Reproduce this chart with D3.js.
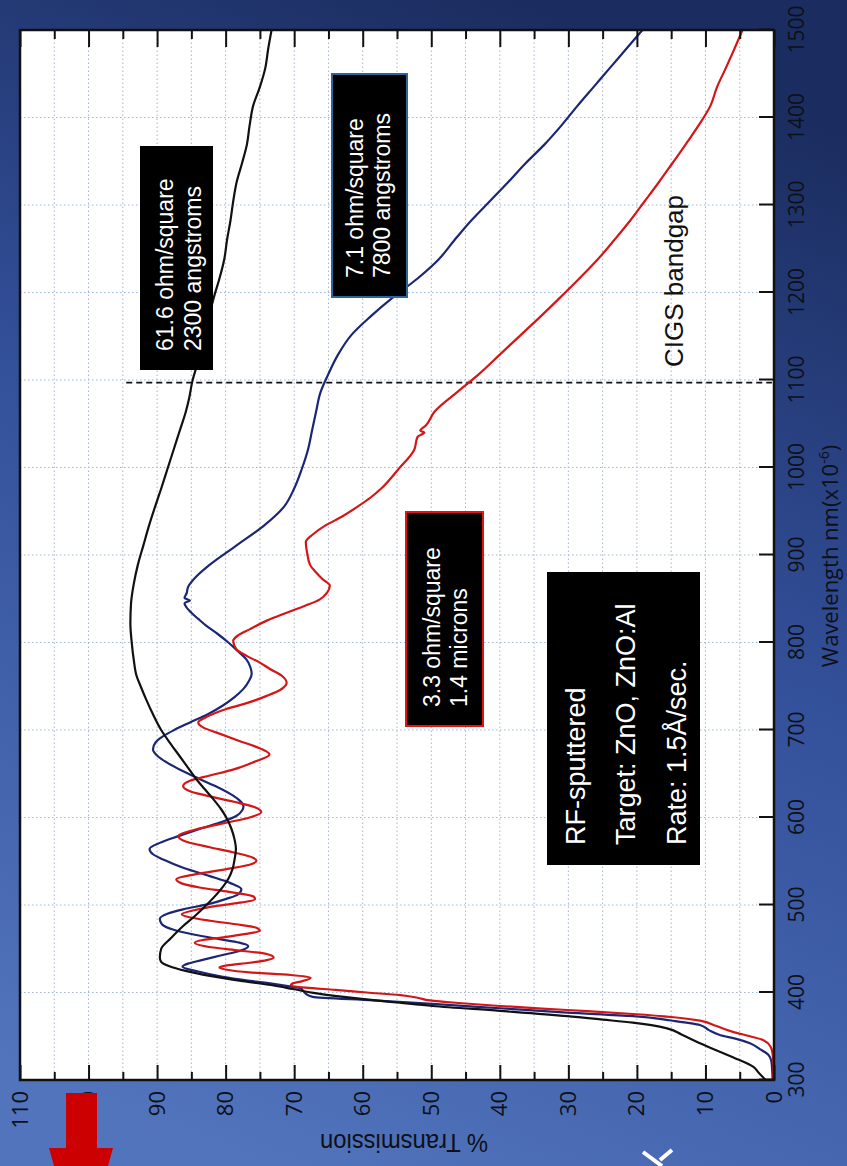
<!DOCTYPE html>
<html>
<head>
<meta charset="utf-8">
<script src="https://cdn.jsdelivr.net/npm/d3@7"></script>
<style>
  html, body { margin: 0; padding: 0; background: #2c4786; }
  svg { display: block; }
</style>
</head>
<body>
<svg id="chart" width="847" height="1166"></svg>
<script>
// ---- data ----
const wavelengthTicks = [300, 400, 500, 600, 700, 800, 900, 1000, 1100, 1200, 1300, 1400, 1500]
const transmissionTicks = [0, 10, 20, 30, 40, 50, 60, 70, 80, 90, 100, 110]
const transmissionMinorTicks = [5, 15, 25, 35, 45, 55, 65, 75, 85, 95, 105]
const bandgapWavelength = 1097

// 61.6 ohm/square, 2300 angstroms
const blackWavelength = [300, 308, 315, 326, 342, 352, 359, 365.5, 369, 373, 379, 384.6, 388.3, 393, 399, 404, 408, 413, 419, 425, 430, 435, 440, 450, 462, 476, 488, 500, 515, 530, 541, 552, 564, 575, 588, 600, 610, 621, 632, 644, 657, 670, 685, 700, 718, 735, 750, 762, 780, 800, 822, 845, 867, 889, 911, 933, 955, 976, 998, 1020, 1042, 1064, 1080, 1097, 1124, 1151, 1173, 1195, 1216, 1238, 1260, 1282, 1304, 1326, 1348, 1369, 1391, 1413, 1435, 1457, 1478, 1500]
const blackTransmission = [1.2, 2.2, 3.0, 6.0, 10.8, 13.5, 15.6, 20.6, 25, 30.2, 40, 49.8, 54.6, 60.5, 66.7, 70.2, 73, 77.5, 82.3, 86, 88.2, 89.4, 89.6, 89.4, 88.0, 86.2, 84.4, 82.8, 81.0, 79.6, 79.0, 78.7, 78.5, 78.7, 79.2, 79.9, 80.7, 81.8, 83.0, 84.3, 85.5, 86.7, 88.1, 89.4, 90.6, 91.6, 92.4, 93.0, 93.4, 93.7, 93.9, 93.8, 93.4, 92.8, 92.0, 91.2, 90.3, 89.4, 88.5, 87.6, 86.7, 85.8, 85.3, 84.9, 83.9, 82.9, 82.4, 81.7, 80.9, 80.2, 79.8, 79.3, 78.9, 78.4, 77.6, 76.9, 76.5, 76.0, 75.0, 74.2, 73.8, 73.3]

// 7.1 ohm/square, 7800 angstroms
const blueWavelength = [300, 315, 322, 328.6, 335, 342, 347, 351.4, 357, 362.9, 368, 373, 377, 382, 387, 391, 395, 398, 402, 404.5, 407, 411, 414, 418, 424, 429.5, 433, 437, 442, 448, 453, 457, 461, 466, 472, 478, 484, 490, 495, 501, 507, 512, 518, 525, 533, 542, 552, 558, 564, 571, 579, 587, 595, 602, 608, 613, 619, 625, 634, 644, 654, 663, 670, 678, 686, 693, 700, 708.6, 718, 728, 737, 747, 756, 764, 772, 781, 790, 800, 810, 819, 827, 834, 840, 845, 848, 851, 856, 863, 876, 889, 911, 933, 955, 976, 998, 1020, 1042, 1064, 1085, 1107, 1129, 1151, 1173, 1195, 1216, 1238, 1260, 1282, 1304, 1326, 1348, 1369, 1391, 1413, 1435, 1457, 1478, 1500]
const blueTransmission = [0.2, 0.3, 0.4, 0.8, 2.0, 3.5, 5.5, 7.9, 9.5, 10.8, 15, 20.6, 30.2, 40, 49.8, 58.5, 67.3, 68.2, 68.7, 69.0, 70.7, 74, 77, 80.4, 84, 86.3, 85.5, 83.5, 80.9, 77.8, 76.7, 78, 80.9, 84.5, 87.7, 89.3, 89.6, 88.5, 86.2, 82.5, 79.9, 78.2, 77.7, 79.3, 82.3, 86.0, 89.1, 90.6, 91.1, 89.6, 86.8, 83.8, 80.5, 78.4, 77.6, 77.4, 77.9, 78.9, 81.0, 83.8, 86.5, 88.6, 89.9, 90.6, 90.2, 89.1, 87.5, 85.2, 82.6, 80.4, 78.8, 77.4, 76.6, 76.2, 76.4, 77.0, 78.2, 79.6, 81.2, 82.8, 84.0, 85.0, 85.7, 86.0, 85.2, 86.0, 85.7, 85.5, 84.2, 82.3, 78.4, 74.5, 71.5, 70.0, 68.9, 68.0, 67.4, 66.8, 66.2, 65.0, 63.6, 61.7, 58.8, 55.5, 52.0, 48.9, 46.6, 44.2, 41.5, 38.8, 36.2, 33.5, 31.0, 28.7, 26.3, 23.9, 21.6, 19.2]

// 3.3 ohm/square, 1.4 microns
const redWavelength = [300, 320, 330, 338, 345.7, 350, 355, 362, 367.8, 372, 375.4, 380, 384.6, 388, 391, 394, 397, 400, 403, 405.5, 408, 410, 413, 417, 420, 423, 426, 428.6, 431, 434, 437, 440, 444, 448, 451.4, 457, 460, 463, 467, 470.5, 474, 478, 482, 486, 489.5, 494, 499, 503, 506.7, 510, 515, 520, 525, 529.5, 535, 541, 546, 550.5, 554, 560, 566, 572, 579, 586, 594, 600, 606, 612, 618, 625, 630, 636, 642, 648, 655, 663, 672, 679, 688, 697, 703, 708.6, 714, 724, 731, 739, 746, 754, 762, 770, 777, 785, 792, 802, 808, 815, 825, 834, 842, 849, 857, 865, 872, 880, 889, 902, 915, 924, 933, 944, 955, 966, 976, 998, 1020, 1035, 1040, 1042, 1048, 1064, 1085, 1107, 1129, 1151, 1173, 1195, 1216, 1238, 1260, 1282, 1304, 1326, 1348, 1369, 1391, 1413, 1435, 1457, 1478, 1500]
const redTransmission = [0.1, 0.1, 0.2, 0.5, 1.6, 3.5, 6.0, 8.5, 10.8, 15, 20.6, 30.2, 40, 46, 50.2, 52, 54.5, 59.4, 64, 68.3, 70.5, 70.3, 68.8, 67.6, 70.5, 76.5, 79.8, 80.9, 79.8, 76.5, 74.0, 73.0, 74.0, 78, 81.8, 84.5, 83.3, 80.4, 77, 75.0, 75.5, 78.5, 82.3, 85.3, 86.4, 84.6, 81.3, 77.6, 75.7, 76.0, 79.5, 83.8, 86.5, 87.2, 84.5, 79.9, 76.5, 75.5, 76.0, 78.8, 82.3, 85.6, 86.9, 84.5, 79.9, 76.5, 74.8, 75.8, 78.8, 82.8, 85.2, 86.2, 85.2, 82.3, 78.8, 76.0, 73.6, 75.0, 78.2, 81.3, 83.3, 84.0, 83.0, 79.9, 76.8, 74.0, 72.0, 71.1, 71.8, 73.6, 75.0, 77.0, 78.4, 78.9, 78.2, 76.5, 74.0, 71.1, 68.4, 66.3, 65.2, 64.8, 65.8, 66.8, 67.7, 68.1, 68.3, 67.2, 65.6, 63.0, 60.8, 58.8, 57.3, 54.8, 52.5, 52.0, 51.0, 51.6, 50.8, 49.5, 46.4, 43.0, 40.0, 37.0, 34.0, 31.1, 28.4, 25.7, 23.3, 21.0, 18.9, 16.8, 14.8, 12.9, 11.0, 9.3, 8.3, 7.0, 5.8, 4.6]

const series = [
  { name: "blue", color: "#1b2775", wl: blueWavelength, t: blueTransmission },
  { name: "red", color: "#d41616", wl: redWavelength, t: redTransmission },
  { name: "black", color: "#111111", wl: blackWavelength, t: blackTransmission }
]

// ---- layout: the chart is drawn normally, then turned 90 degrees ----
const frame = { left: 20, top: 30, right: 774, bottom: 1080 }
const plotLength = frame.bottom - frame.top   // wavelength axis
const plotDepth = frame.right - frame.left    // transmission axis

const svg = d3.select("#chart")

// slide background
const defs = svg.append("defs")
const bg = defs.append("linearGradient")
  .attr("id", "bg")
  .attr("x1", "0.6").attr("y1", "0")
  .attr("x2", "0.3").attr("y2", "1")
bg.append("stop").attr("offset", "0%").attr("stop-color", "#1b2d60")
bg.append("stop").attr("offset", "45%").attr("stop-color", "#33509a")
bg.append("stop").attr("offset", "100%").attr("stop-color", "#5174bc")

defs.append("clipPath").attr("id", "plotClip")
  .append("rect")
  .attr("x", 0).attr("y", 0)
  .attr("width", plotLength).attr("height", plotDepth)

svg.append("rect")
  .attr("width", 847).attr("height", 1166)
  .attr("fill", "url(#bg)")

const group = svg.append("g")
  .attr("transform", `translate(${frame.left}, ${frame.bottom}) rotate(-90)`)

// scales
const xScale = d3.scaleLinear().domain([300, 1500]).range([0, plotLength])
const yScale = d3.scaleLinear().domain([0, 110]).range([plotDepth, 0])

group.append("rect")
  .attr("width", plotLength).attr("height", plotDepth)
  .attr("fill", "#ffffff")

// dotted grid
group.append("g")
  .selectAll("line")
  .data(d3.range(5, 110, 5))
  .enter()
  .append("line")
    .attr("x1", 0).attr("x2", plotLength)
    .attr("y1", d => yScale(d)).attr("y2", d => yScale(d))
    .attr("stroke", "#9fb4d9")
    .attr("stroke-width", 1)
    .attr("stroke-dasharray", "1.5,2.5")

group.append("g")
  .selectAll("line")
  .data(wavelengthTicks.slice(1, -1))
  .enter()
  .append("line")
    .attr("x1", d => xScale(d)).attr("x2", d => xScale(d))
    .attr("y1", 0).attr("y2", plotDepth)
    .attr("stroke", "#9fb4d9")
    .attr("stroke-width", 1)
    .attr("stroke-dasharray", "1.5,2.5")

// CIGS bandgap marker
group.append("line")
  .attr("x1", xScale(bandgapWavelength)).attr("x2", xScale(bandgapWavelength))
  .attr("y1", yScale(94.5)).attr("y2", yScale(0.3))
  .attr("stroke", "#111")
  .attr("stroke-width", 1.6)
  .attr("stroke-dasharray", "6,4")

// curves
const lineGen = d3.line()
  .x(d => xScale(d[0]))
  .y(d => yScale(d[1]))
  .curve(d3.curveMonotoneX)

group.append("g")
  .attr("clip-path", "url(#plotClip)")
  .selectAll("path")
  .data(series)
  .enter()
  .append("path")
    .attr("d", s => lineGen(s.wl.map((w, i) => [w, s.t[i]])))
    .attr("fill", "none")
    .attr("stroke", s => s.color)
    .attr("stroke-width", 2.2)
    .attr("stroke-linejoin", "round")

// axes, ticks pointing inward
const tickFont = `"Open Sans", "DejaVu Sans", sans-serif`

const xAxis = group.append("g")
  .attr("transform", `translate(0, ${plotDepth})`)
  .call(d3.axisBottom(xScale)
    .tickValues(wavelengthTicks)
    .tickFormat(d3.format("d"))
    .tickSizeInner(-15).tickSizeOuter(0)
    .tickPadding(15))
xAxis.select(".domain").remove()

const yAxis = group.append("g")
  .call(d3.axisLeft(yScale)
    .tickValues(transmissionTicks)
    .tickFormat(d3.format("d"))
    .tickSizeInner(-15).tickSizeOuter(0)
    .tickPadding(11))
yAxis.select(".domain").remove()

const yMinor = group.append("g")
  .call(d3.axisLeft(yScale)
    .tickValues(transmissionMinorTicks)
    .tickFormat("")
    .tickSizeInner(-8).tickSizeOuter(0))
yMinor.select(".domain").remove()

const yRight = group.append("g")
  .attr("transform", `translate(${plotLength}, 0)`)
  .call(d3.axisRight(yScale)
    .tickValues(transmissionTicks)
    .tickFormat("")
    .tickSizeInner(-17).tickSizeOuter(0))
yRight.select(".domain").remove()

const yRightMinor = group.append("g")
  .attr("transform", `translate(${plotLength}, 0)`)
  .call(d3.axisRight(yScale)
    .tickValues(transmissionMinorTicks)
    .tickFormat("")
    .tickSizeInner(-9).tickSizeOuter(0))
yRightMinor.select(".domain").remove()

group.selectAll(".tick line")
  .attr("stroke", "#111")
  .attr("stroke-width", 2)

xAxis.selectAll("text")
  .attr("font-family", tickFont)
  .attr("font-size", "21px")
  .attr("fill", "#0e1018")
yAxis.selectAll("text")
  .attr("font-family", tickFont)
  .attr("font-size", "22px")
  .attr("fill", "#0e1018")

group.append("rect")
  .attr("width", plotLength).attr("height", plotDepth)
  .attr("fill", "none")
  .attr("stroke", "#111")
  .attr("stroke-width", 2.5)

// axis titles
const xTitle = svg.append("text")
  .attr("transform", "translate(838, 556) rotate(-90)")
  .attr("text-anchor", "middle")
  .attr("font-family", tickFont)
  .attr("font-size", "22px")
  .attr("fill", "#0e1018")
xTitle.append("tspan").text("Wavelength nm(x10")
xTitle.append("tspan").attr("dy", -9).attr("font-size", "14px").text("-6")
xTitle.append("tspan").attr("dy", 9).text(")")

svg.append("text")
  .attr("transform", "translate(404, 1134) rotate(180)")
  .attr("text-anchor", "middle")
  .attr("font-family", `"Liberation Sans Narrow", "Liberation Sans", Arial, sans-serif`)
  .attr("font-size", "25px")
  .attr("textLength", 168)
  .attr("lengthAdjust", "spacingAndGlyphs")
  .attr("fill", "#0e1018")
  .text("% Transmission")

// annotation boxes
const labelFont = `"Liberation Sans", Arial, sans-serif`
const boxes = [
  { x: 140, y: 146, w: 73, h: 224, border: null, size: 23, start: 351, baselines: [173, 201],
    lines: ["61.6 ohm/square", "2300 angstroms"] },
  { x: 332, y: 74, w: 75, h: 223, border: "#2f6497", size: 23, start: 278, baselines: [363, 390],
    lines: ["7.1 ohm/square", "7800 angstroms"] },
  { x: 406, y: 512, w: 77, h: 214, border: "#e01414", size: 23, start: 707, baselines: [440, 467],
    lines: ["3.3 ohm/square", "1.4 microns"] },
  { x: 547, y: 572, w: 153, h: 293, border: null, size: 27, start: 845, baselines: [585, 635, 686],
    lines: ["RF-sputtered", "Target: ZnO, ZnO:Al", "Rate: 1.5Å/sec."] }
]

boxes.forEach(b => {
  svg.append("rect")
    .attr("x", b.x).attr("y", b.y)
    .attr("width", b.w).attr("height", b.h)
    .attr("fill", "#000")
    .attr("stroke", b.border || "none")
    .attr("stroke-width", 2)
  const t = svg.append("text")
    .attr("transform", `translate(${b.baselines[0]}, ${b.start}) rotate(-90)`)
    .attr("font-family", labelFont)
    .attr("font-size", b.size + "px")
    .attr("fill", "#ffffff")
  b.lines.forEach((line, i) => {
    t.append("tspan")
      .attr("x", 0)
      .attr("y", b.baselines[i] - b.baselines[0])
      .text(line)
  })
})

svg.append("text")
  .attr("transform", "translate(683, 367) rotate(-90)")
  .attr("font-family", labelFont)
  .attr("font-size", "26px")
  .attr("fill", "#111")
  .text("CIGS bandgap")

// red arrow at the lower left
svg.append("path")
  .attr("d", "M66,1093 L97,1093 L97,1148 L113,1148 L81,1262 L49,1148 L66,1148 Z")
  .attr("fill", "#cc0000")

// white stroke peeking in at the bottom
svg.append("path")
  .attr("d", "M643,1152 L662,1166 M660,1160 L672,1150")
  .attr("stroke", "#ffffff")
  .attr("stroke-width", 4)
  .attr("fill", "none")
</script>
</body>
</html>
